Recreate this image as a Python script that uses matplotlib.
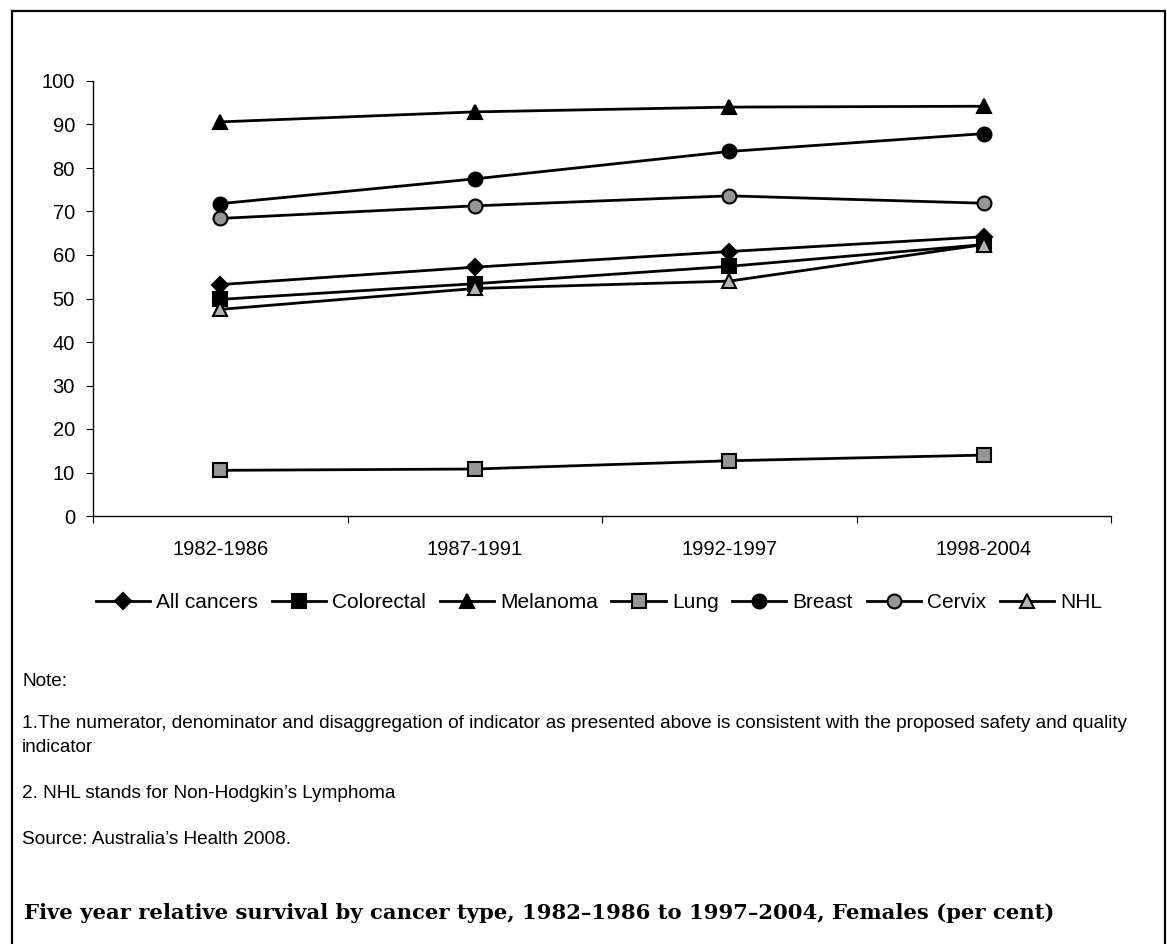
import numpy as np
import matplotlib
matplotlib.use('Agg')
import matplotlib.pyplot as plt
from matplotlib.lines import Line2D

plt.rcParams['font.family'] = ['Liberation Sans', 'DejaVu Sans']

periods = ['1982-1986', '1987-1991', '1992-1997', '1998-2004']

all_cancers = [53.2, 57.2, 60.8, 64.2]
colorectal = [49.8, 53.4, 57.4, 62.4]
melanoma = [90.6, 92.9, 94.0, 94.2]
lung = [10.5, 10.8, 12.7, 14.0]
breast = [71.8, 77.5, 83.8, 87.9]
cervix = [68.4, 71.3, 73.6, 71.9]
nhl = [47.5, 52.3, 54.0, 62.4]

grey = '#969696'
# name, values, marker, face colour
series = [
    ('All cancers', all_cancers, 'D', 'black'),
    ('Colorectal', colorectal, 's', 'black'),
    ('Melanoma', melanoma, '^', 'black'),
    ('Lung', lung, 's', grey),
    ('Breast', breast, 'o', 'black'),
    ('Cervix', cervix, 'o', grey),
    ('NHL', nhl, '^', '#b4b4b4'),
]

fig = plt.figure(figsize=(11.67, 9.44), dpi=100)
ax = fig.add_axes([93/1167, 1-516/944, (1111-93)/1167, (516-81)/944])

x = np.arange(len(periods))
handles = []
for name, vals, mk, fc in series:
    ms = 8 if mk == 'D' else 10
    h, = ax.plot(x, vals, color='black', lw=2, marker=mk, ms=ms,
                 markerfacecolor=fc, markeredgecolor='black', markeredgewidth=1.5,
                 label=name)
    handles.append(h)

ax.set_xlim(-0.5, len(periods) - 0.5)
ax.set_ylim(0, 100)
ax.set_yticks(range(0, 101, 10))
ax.set_xticks(np.arange(-0.5, len(periods), 1))
ax.set_xticklabels([])
ax.set_xticks(x, minor=True)
ax.set_xticklabels(periods, minor=True)
ax.tick_params(axis='x', which='minor', length=0, pad=17, labelsize=14.5)
ax.tick_params(axis='x', which='major', length=5, direction='out')
ax.tick_params(axis='y', length=5, direction='out', labelsize=14.5, pad=8)
for s in ['top', 'right']:
    ax.spines[s].set_visible(False)
for s in ['left', 'bottom']:
    ax.spines[s].set_linewidth(1)

fig.legend(handles=handles, loc='center', bbox_to_anchor=(599/1167, 1-603/944),
           ncol=7, frameon=False, fontsize=15, handlelength=2.6,
           handletextpad=0.3, columnspacing=0.65)

fs = 13.7
fig.text(22/1167, 1-682/944, 'Note:', fontsize=fs, va='center')
fig.text(22/1167, 1-723/944, '1.The numerator, denominator and disaggregation of indicator as presented above is consistent with the proposed safety and quality',
         fontsize=fs, va='center')
fig.text(22/1167, 1-748/944, 'indicator', fontsize=fs, va='center')
fig.text(22/1167, 1-793/944, '2. NHL stands for Non-Hodgkin\u2019s Lymphoma', fontsize=fs, va='center')
fig.text(22/1167, 1-840/944, 'Source: Australia\u2019s Health 2008.', fontsize=fs, va='center')
fig.text(24/1167, 1-913/944, 'Five year relative survival by cancer type, 1982\u20131986 to 1997\u20132004, Females (per cent)',
         fontsize=15.2, fontweight='bold', family=['DejaVu Serif'], va='center')

# page border
bx0, bx1, by1 = 12/1167, 1165/1167, 1-11/944
for xs, ys in [([bx0, bx1], [by1, by1]), ([bx0, bx0], [-0.1, by1]), ([bx1, bx1], [-0.1, by1])]:
    fig.add_artist(Line2D(xs, ys, color='black', lw=1.6, transform=fig.transFigure))

fig.savefig('out.png', dpi=100)
